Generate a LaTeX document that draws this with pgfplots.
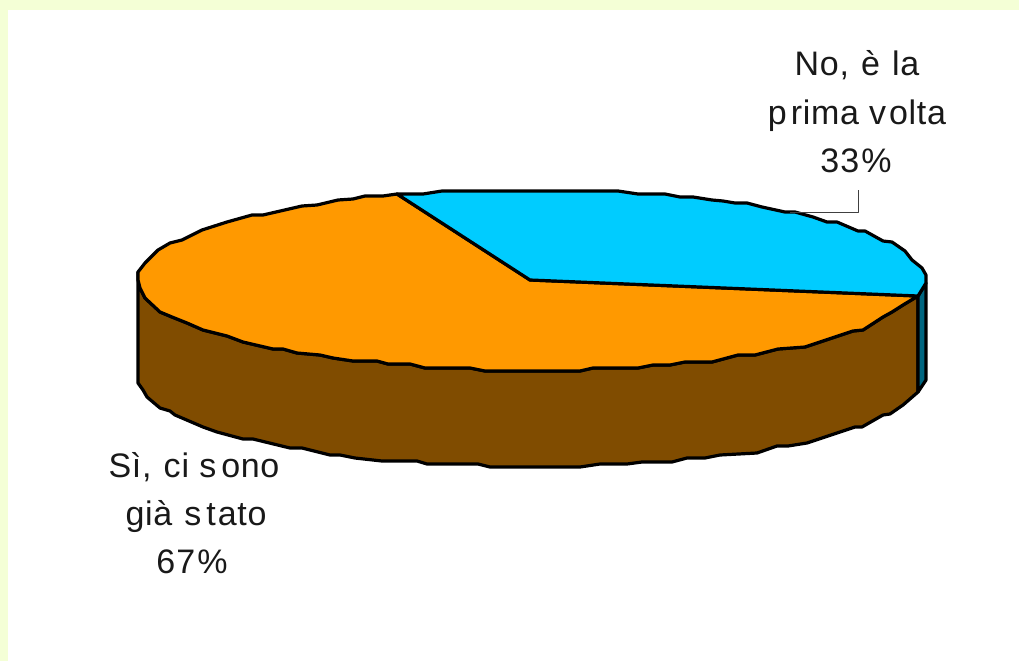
\documentclass[border=0pt]{standalone}
\usepackage{fontspec}
\setmainfont{Liberation Sans}
\usepackage{pgfplots}
\pgfplotsset{compat=1.18}

\definecolor{framebg}{HTML}{F4FFD6}
\definecolor{sliceno}{HTML}{00CCFF}
\definecolor{slicesi}{HTML}{FF9900}
\definecolor{sidesi}{HTML}{804C00}
\definecolor{sideno}{HTML}{006680}

\newcommand{\lbl}{\fontsize{34}{34}\selectfont\addfontfeature{LetterSpace=2}}
\newcommand{\gap}[1]{\kern#1pt\relax}
\tikzset{lab/.style={anchor=base, inner sep=0pt, text=black!90, font=\lbl}}

\begin{document}
\begin{tikzpicture}
\begin{axis}[
    scale only axis, width=1019pt, height=661pt,
    xmin=0, xmax=1019, ymin=0, ymax=661, y dir=reverse,
    hide axis, clip=false,
    every axis plot/.append style={line join=round, line width=3.2pt, black},
]
% page: pale strip on top and left, white plot area
\addplot[fill=framebg, draw=none] coordinates {(0,0) (1019,0) (1019,661) (0,661)} --cycle;
\addplot[fill=white, draw=none] coordinates {(8,10) (1019,10) (1019,661) (8,661)} --cycle;

% side of the 67% slice
\addplot[fill=sidesi] coordinates {
    (138,272) (138,280) (140,288) (145,298) (160,312) (172,317) (187,323) (203,330)
    (227,336) (243,342) (273,349) (283,349) (297,353) (320,355) (333,358) (353,361)
    (377,361) (388,364) (410,364) (425,368) (470,368) (485,371) (580,371) (593,368)
    (638,368) (653,365) (670,365) (685,362) (712,362) (738,355) (755,355) (778,349)
    (805,347) (853,331) (863,330) (883,317) (892,312) (903,305) (918,296)
    (918,392) (903,405) (890,414) (883,415) (862,427) (855,427) (837,433) (807,443)
    (788,446) (777,446) (757,453) (720,455) (705,458) (687,458) (672,462) (642,462)
    (627,464) (600,464) (580,467) (490,467) (478,464) (427,464) (417,461) (382,461)
    (355,458) (340,455) (330,455) (302,448) (290,448) (253,439) (243,439) (217,432)
    (203,427) (175,415) (170,411) (160,408) (147,397) (143,390) (138,383)
} --cycle;
% side of the 33% slice
\addplot[fill=sideno] coordinates {
    (918,296) (926,283) (926,380) (918,392)
} --cycle;
% top of the 67% slice
\addplot[fill=slicesi] coordinates {
    (530,280) (397,194) (383,196) (365,196) (353,199) (338,200) (317,205) (302,206)
    (263,215) (252,215) (227,222) (202,230) (182,240) (170,243) (158,250) (145,263)
    (138,272) (138,280) (140,288) (145,298) (160,312) (172,317) (187,323) (203,330)
    (227,336) (243,342) (273,349) (283,349) (297,353) (320,355) (333,358) (353,361)
    (377,361) (388,364) (410,364) (425,368) (470,368) (485,371) (580,371) (593,368)
    (638,368) (653,365) (670,365) (685,362) (712,362) (738,355) (755,355) (778,349)
    (805,347) (853,331) (863,330) (883,317) (892,312) (903,305) (918,296)
} --cycle;
% top of the 33% slice
\addplot[fill=sliceno] coordinates {
    (530,280) (397,194) (423,194) (442,191) (618,191) (638,194) (665,194) (680,197)
    (693,197) (712,200) (723,201) (735,203) (747,203) (762,207) (785,212) (795,212)
    (813,217) (827,222) (837,222) (858,231) (865,231) (883,241) (892,242) (905,251)
    (912,260) (922,268) (926,275) (926,283) (918,296)
} --cycle;
% leader line
\addplot[line width=1pt, black!75] coordinates {(790,212) (858,212) (858,190)};

% the spacing of the letters is uneven in the original
\node[lab] at (axis cs:857,75)  {No,\gap{2} è\gap{2} la};
\node[lab] at (axis cs:857,124) {p\gap{4}rima v\gap{3}olta};
\node[lab] at (axis cs:856,172) {3\gap{1}3\gap{2}\%};
\node[lab] at (axis cs:194,477) {Sì,\gap{2} c\gap{1}i s\gap{5}ono};
\node[lab] at (axis cs:196,525) {già\gap{2} s\gap{5}t\gap{2}ato};
\node[lab] at (axis cs:192,573) {6\gap{1}7\gap{2}\%};
\end{axis}
\end{tikzpicture}
\end{document}
